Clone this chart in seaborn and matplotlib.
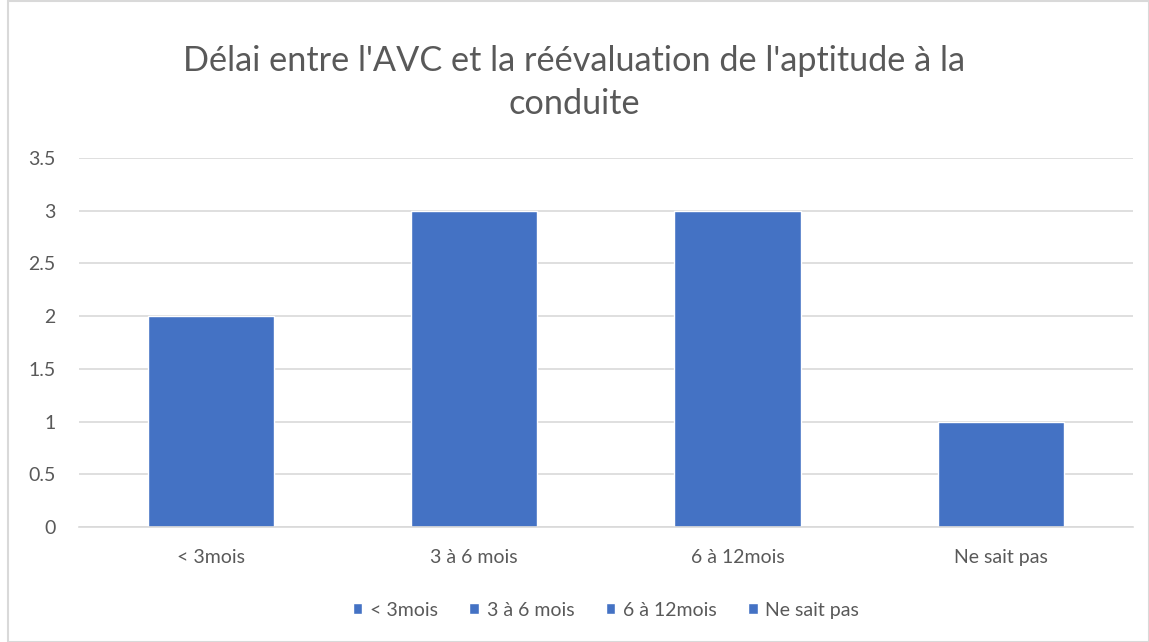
import matplotlib
matplotlib.use("Agg")
import matplotlib.pyplot as plt
import seaborn as sns
import pandas as pd
from matplotlib.patches import Rectangle

categories = ["< 3mois", "3 à 6 mois", "6 à 12mois", "Ne sait pas"]
values = [2, 3, 3, 1]
yticks = [0, 0.5, 1, 1.5, 2, 2.5, 3, 3.5]
ytick_labels = ["0", "0.5", "1", "1.5", "2", "2.5", "3", "3.5"]
title = "Délai entre l'AVC et la réévaluation de l'aptitude à la\nconduite"

bar_color = "#4472C4"
text_color = "#595959"
grid_color = "#D9D9D9"

sns.set_style("white")
plt.rcParams["font.family"] = ["Lato", "DejaVu Sans"]

data = pd.DataFrame({"cat": categories, "val": values})

fig = plt.figure(figsize=(11.49, 6.42), dpi=100)
ax = fig.add_axes([0.0688, 0.179, 0.9172, 0.575])

sns.barplot(data=data, x="cat", y="val", hue="cat", palette=[bar_color] * 4,
            dodge=False, width=0.48, saturation=1, ax=ax, legend=True)

ax.set_xlim(-0.5, 3.5)
ax.set_ylim(0, 3.5)
ax.set_yticks(yticks)
ax.set_yticklabels(ytick_labels)
ax.yaxis.grid(True, color=grid_color, linewidth=1.2)
ax.set_axisbelow(True)
ax.tick_params(axis="y", length=0, labelsize=14, labelcolor=text_color, pad=17)

ax.set_xticks([-0.5, 0.5, 1.5, 2.5, 3.5])
ax.set_xticklabels([""] * 5)
ax.tick_params(axis="x", which="major", length=7, color=grid_color, width=1.2)
ax.set_xticks(range(len(categories)), minor=True)
ax.set_xticklabels(categories, minor=True)
ax.tick_params(axis="x", which="minor", length=0, labelsize=14,
               labelcolor=text_color, pad=16)

for side in ["top", "right", "left"]:
    ax.spines[side].set_visible(False)
ax.spines["bottom"].set_color(grid_color)
ax.spines["bottom"].set_linewidth(1.2)
ax.set_xlabel("")
ax.set_ylabel("")

fig.suptitle(title, y=0.93, fontsize=24.7, color=text_color, linespacing=1.42)

handles, labels = ax.get_legend_handles_labels()
ax.legend(handles, labels, loc="center", bbox_to_anchor=(0.5, -0.225),
          ncol=4, frameon=False, fontsize=14, labelcolor=text_color,
          handlelength=0.5, handleheight=0.5, handletextpad=0.4,
          columnspacing=1.6)

fig.patches.append(Rectangle((0.007, 0.0), 0.993, 0.998, transform=fig.transFigure,
                             fill=False, edgecolor=grid_color, linewidth=1.5))

fig.savefig("out.png", dpi=100)
